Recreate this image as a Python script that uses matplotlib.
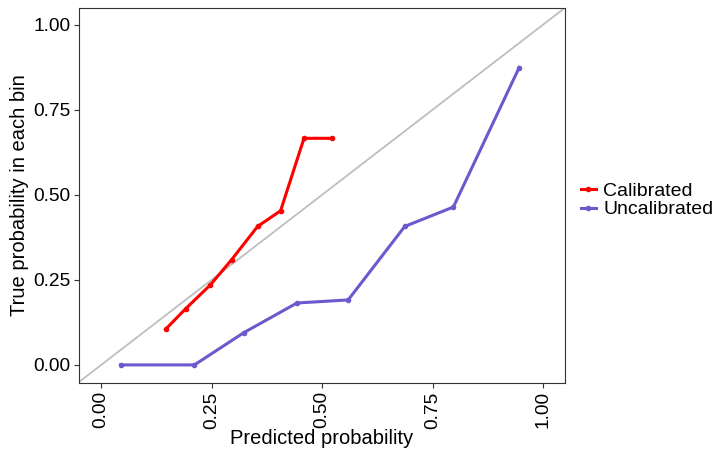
import matplotlib
matplotlib.use("Agg")
import matplotlib.pyplot as plt
from matplotlib.lines import Line2D

plt.rcParams['font.family'] = ['Liberation Sans', 'DejaVu Sans']

# calibration curve values
cal_x = [0.146, 0.191, 0.247, 0.295, 0.354, 0.406, 0.459, 0.522]
cal_y = [0.105, 0.165, 0.235, 0.309, 0.407, 0.453, 0.666, 0.666]
uncal_x = [0.044, 0.211, 0.323, 0.443, 0.559, 0.687, 0.797, 0.946]
uncal_y = [0.0, 0.0, 0.095, 0.182, 0.191, 0.407, 0.464, 0.874]
ticks = [0.0, 0.25, 0.5, 0.75, 1.0]
tick_labels = ["0.00", "0.25", "0.50", "0.75", "1.00"]

fig = plt.figure(figsize=(7.19, 4.5), dpi=100)
ax = fig.add_axes([0.110, 0.149, 0.676, 0.834])

ax.axline((0, 0), (1, 1), color='#bebebe', lw=1.3, zorder=1)
ax.plot(cal_x, cal_y, color='#ff0000', lw=2.2, marker='o', ms=3, label='Calibrated', zorder=3)
ax.plot(uncal_x, uncal_y, color='#6a5acd', lw=2.2, marker='o', ms=3, label='Uncalibrated', zorder=2)

ax.set_xlim(-0.05, 1.05)
ax.set_ylim(-0.053, 1.05)
ax.set_xticks(ticks)
ax.set_xticklabels(tick_labels, rotation=90)
ax.set_yticks(ticks)
ax.set_yticklabels(tick_labels)
ax.tick_params(labelsize=13.8, colors='#333333', labelcolor='black', length=3.5, width=0.8, pad=2.5)
for s in ax.spines.values():
    s.set_color('#333333')
    s.set_linewidth(0.8)

ax.set_xlabel('Predicted probability', fontsize=14.5, labelpad=0)
ax.set_ylabel('True probability in each bin', fontsize=14.5, labelpad=3)

handles = [Line2D([], [], color='#ff0000', lw=2.2, marker='o', ms=3),
           Line2D([], [], color='#6a5acd', lw=2.2, marker='o', ms=3)]
fig.legend(handles, ['Calibrated', 'Uncalibrated'], loc='center left',
           bbox_to_anchor=(0.808, 0.555), frameon=False, fontsize=14,
           handlelength=0.75, handletextpad=0.4, labelspacing=0.05,
           borderpad=0, borderaxespad=0)

fig.savefig('out.png', dpi=100)
